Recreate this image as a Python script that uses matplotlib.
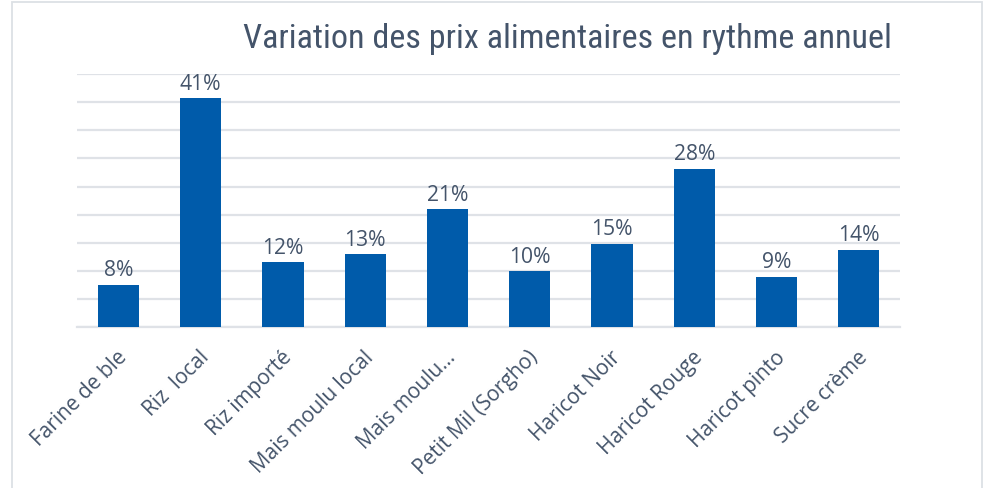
import matplotlib
matplotlib.use("Agg")
import matplotlib.pyplot as plt
import matplotlib.transforms as mtrans
from matplotlib.patches import Rectangle
from matplotlib import font_manager
from matplotlib.font_manager import FontProperties

categories = ["Farine de ble", "Riz  local", "Riz importé", "Mais moulu local",
              "Mais moulu…", "Petit Mil (Sorgho)", "Haricot Noir",
              "Haricot Rouge", "Haricot pinto", "Sucre crème"]
values = [7.6, 40.7, 11.6, 13.0, 21.0, 10.0, 14.8, 28.2, 8.95, 13.8]
title = "Variation des prix alimentaires en rythme annuel"

flist = font_manager.fontManager.ttflist


def is_cond(f):
    st = str(f.stretch).lower()
    fn = f.fname.lower()
    nm = f.name.lower()
    return ("condensed" in st or "narrow" in st or "condensed" in fn
            or "narrow" in fn or "narrow" in nm or "condensed" in nm)


def wnum(f):
    w = f.weight
    if isinstance(w, int):
        return w
    return {"normal": 400, "regular": 400, "book": 400, "light": 300,
            "bold": 700, "medium": 500}.get(str(w).lower(), 400)


# body font: regular, normal-width Open Sans
best = None
for f in flist:
    if f.name == "Open Sans" and f.style == "normal" and not is_cond(f):
        fn = f.fname.lower()
        score = abs(wnum(f) - 400) + (50 if "semi" in fn else 0)
        if best is None or score < best[0]:
            best = (score, f.fname)
if best:
    body_fp = FontProperties(fname=best[1])
else:
    body_fp = FontProperties(family="DejaVu Sans")

# title font: a condensed face if one exists
pref = ["Liberation Sans Narrow", "Roboto Condensed", "Roboto", "Open Sans Condensed",
        "Open Sans", "Noto Sans", "DejaVu Sans", "Lato"]
cands = []
for f in flist:
    fn = f.fname.lower()
    if is_cond(f) and f.style == "normal" and "semi" not in fn and "extra" not in fn \
            and "bold" not in fn:
        rank = next((i for i, p in enumerate(pref) if p in f.name), len(pref))
        cands.append((rank, abs(wnum(f) - 400), f.fname))
if cands:
    cands.sort()
    title_fp = FontProperties(fname=cands[0][2])
else:
    title_fp = FontProperties(family="DejaVu Sans")

W, H = 989, 489
fig = plt.figure(figsize=(W / 100, H / 100), dpi=100)
fig.patch.set_facecolor("white")

# outer frame
fig.patches.append(Rectangle((12 / W, -0.05), (982 - 12) / W, 1.05 - 3 / H,
                             transform=fig.transFigure, fill=False,
                             edgecolor="#DCE0E5", lw=1.3))

ax = fig.add_axes([77.3 / W, 1 - 328.3 / H, (900 - 77.3) / W, (328.3 - 75) / H])
text_color = "#44546A"
bar_color = "#005BAA"
grid_color = "#DFE2E7"

x = range(len(categories))
ax.bar(x, values, width=0.5, color=bar_color, zorder=3)
for xi, v in zip(x, values):
    ax.text(xi, v + 0.8, f"{v:.0f}%", ha="center", va="bottom",
            fontproperties=body_fp, fontsize=15.2, color=text_color)

ax.set_xlim(-0.5, len(categories) - 0.5)
ax.set_ylim(0, 45)
ax.set_yticks(range(0, 50, 5))
ax.yaxis.grid(True, color=grid_color, lw=1.6, zorder=0)
ax.tick_params(axis="y", left=False, labelleft=False)
ax.tick_params(axis="x", bottom=False, pad=10)
for s in ["top", "right", "left"]:
    ax.spines[s].set_visible(False)
ax.spines["bottom"].set_color(grid_color)
ax.spines["bottom"].set_linewidth(1.6)

ax.set_xticks(list(x))
ax.set_xticklabels(categories, rotation=45, ha="right", rotation_mode="anchor",
                   fontproperties=body_fp, fontsize=15, color=text_color)
off = mtrans.ScaledTranslation(-2 / 100, 0, fig.dpi_scale_trans)
for lab in ax.get_xticklabels():
    lab.set_transform(lab.get_transform() + off)

# title, fitted to the reference width
t = fig.text(567 / W, 1 - 39 / H, title, ha="center", va="center",
             fontproperties=title_fp, fontsize=23, color=text_color)
fig.canvas.draw()
r = fig.canvas.get_renderer()
wpx = t.get_window_extent(r).width
fs = 23 * 652.0 / wpx
fs = max(17, min(fs, 30))
t.set_fontsize(fs)

fig.savefig("out.png", dpi=100)
